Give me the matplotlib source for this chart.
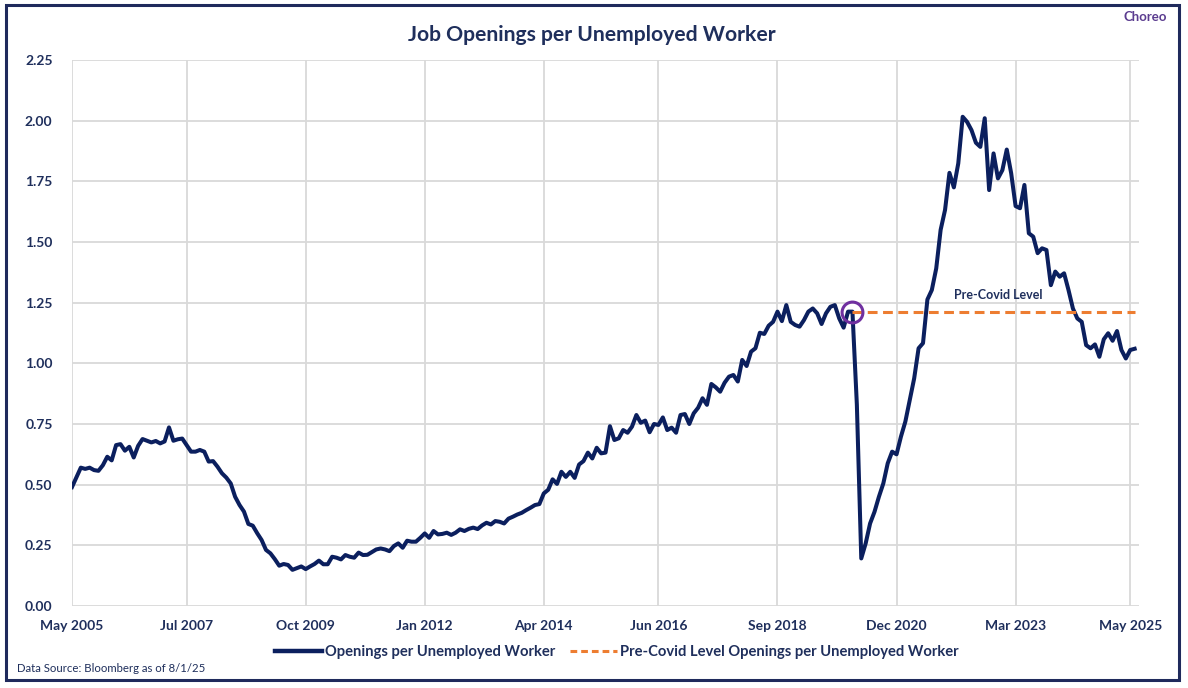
import matplotlib
matplotlib.use("Agg")
import matplotlib.pyplot as plt
from matplotlib.patches import Rectangle
from matplotlib.lines import Line2D

plt.rcParams['font.family'] = ['Lato', 'DejaVu Sans']

# monthly values, May 2005 .. Jun 2025
openings = [
    0.49, 0.53, 0.57, 0.565, 0.57, 0.56, 0.557, 0.58, 0.615, 0.60,
    0.663, 0.667, 0.64, 0.656, 0.612, 0.66, 0.688, 0.681, 0.674, 0.68,
    0.67, 0.678, 0.736, 0.681, 0.687, 0.69, 0.663, 0.636, 0.636, 0.643,
    0.636, 0.595, 0.597, 0.574, 0.547, 0.529, 0.505, 0.45, 0.416, 0.389,
    0.338, 0.331, 0.30, 0.272, 0.231, 0.217, 0.193, 0.166, 0.173, 0.169,
    0.149, 0.156, 0.163, 0.152, 0.163, 0.173, 0.187, 0.172, 0.172, 0.203,
    0.199, 0.192, 0.21, 0.203, 0.199, 0.22, 0.21, 0.211, 0.222, 0.233,
    0.237, 0.233, 0.226, 0.247, 0.258, 0.24, 0.269, 0.265, 0.265, 0.281,
    0.299, 0.281, 0.309, 0.295, 0.297, 0.302, 0.293, 0.302, 0.316, 0.309,
    0.318, 0.323, 0.317, 0.332, 0.343, 0.336, 0.35, 0.347, 0.34, 0.36,
    0.368, 0.377, 0.384, 0.395, 0.405, 0.416, 0.42, 0.464, 0.479, 0.522,
    0.503, 0.553, 0.532, 0.553, 0.528, 0.583, 0.597, 0.632, 0.608, 0.652,
    0.629, 0.632, 0.741, 0.684, 0.691, 0.725, 0.714, 0.739, 0.787, 0.755,
    0.764, 0.716, 0.75, 0.746, 0.777, 0.725, 0.735, 0.714, 0.787, 0.791,
    0.75, 0.794, 0.817, 0.856, 0.829, 0.915, 0.901, 0.883, 0.92, 0.945,
    0.952, 0.925, 1.014, 0.989, 1.048, 1.062, 1.126, 1.121, 1.155, 1.171,
    1.213, 1.174, 1.24, 1.171, 1.158, 1.151, 1.178, 1.213, 1.226, 1.206,
    1.162, 1.206, 1.233, 1.24, 1.185, 1.147, 1.213, 1.213, 0.83, 0.196,
    0.258, 0.34, 0.388, 0.45, 0.505, 0.588, 0.636, 0.625, 0.698, 0.76,
    0.849, 0.938, 1.062, 1.083, 1.263, 1.302, 1.391, 1.55, 1.632, 1.785,
    1.725, 1.824, 2.016, 1.995, 1.961, 1.909, 1.892, 2.01, 1.714, 1.865,
    1.762, 1.796, 1.881, 1.783, 1.648, 1.639, 1.735, 1.536, 1.522, 1.454,
    1.474, 1.467, 1.322, 1.378, 1.357, 1.371, 1.302, 1.226, 1.185, 1.171,
    1.075, 1.062, 1.078, 1.027, 1.099, 1.124, 1.093, 1.133, 1.055, 1.02,
    1.055, 1.06,
]
months = list(range(len(openings)))

pre_covid_start = 177          # Feb 2020
pre_covid_level = openings[pre_covid_start]

tick_months = [0, 26, 53, 80, 107, 133, 160, 187, 214, 240]
tick_labels = ['May 2005', 'Jul 2007', 'Oct 2009', 'Jan 2012', 'Apr 2014',
               'Jun 2016', 'Sep 2018', 'Dec 2020', 'Mar 2023', 'May 2025']
y_ticks = [0, 0.25, 0.5, 0.75, 1.0, 1.25, 1.5, 1.75, 2.0, 2.25]

navy = '#0B1F5E'
text_navy = '#1F2F5C'
orange = '#ED7D31'
purple = '#7030A0'
grid_gray = '#D9D9D9'

fig = plt.figure(figsize=(11.88, 6.88), dpi=100)
ax = fig.add_axes([0.0606, 0.1192, 0.8982, 0.7936])

ax.plot(months, openings, color=navy, lw=2.9, solid_joinstyle='round',
        label='Openings per Unemployed Worker', zorder=3)
covid_x = months[pre_covid_start:]
ax.plot(covid_x, [pre_covid_level] * len(covid_x), color=orange, lw=2.2,
        dashes=(3.2, 1.8), label='Pre-Covid Level Openings per Unemployed Worker',
        zorder=4)
ax.plot([pre_covid_start], [pre_covid_level], 'o', ms=15, mfc='none',
        mec=purple, mew=2.2, zorder=5)
ax.text(210, pre_covid_level + 0.045, 'Pre-Covid Level', color=text_navy,
        fontsize=9, fontweight='bold', ha='center', va='bottom')

ax.set_xlim(0, 242)
ax.set_ylim(0, 2.25)
ax.set_xticks(tick_months)
ax.set_xticklabels(tick_labels)
ax.set_yticks(y_ticks)
ax.set_yticklabels(['%.2f' % v for v in y_ticks])
ax.grid(True, color=grid_gray, lw=1.3)
ax.set_axisbelow(True)
for s in ax.spines.values():
    s.set_visible(False)
ax.tick_params(length=0, colors=text_navy, labelsize=10, pad=10)
ax.tick_params(axis='y', pad=14)
for lab in ax.get_xticklabels() + ax.get_yticklabels():
    lab.set_fontweight('bold')

fig.text(0.498, 0.949, 'Job Openings per Unemployed Worker', ha='center',
         va='center', fontsize=15.2, fontweight='bold', color=text_navy)
fig.text(0.964, 0.975, 'Choreo', ha='center', va='center', fontsize=9.5,
         fontweight='bold', color='#5B3C8F')
fig.text(0.014, 0.029, 'Data Source: Bloomberg as of 8/1/25', ha='left',
         va='center', fontsize=8.2, color=text_navy)

handles = [Line2D([], [], color=navy, lw=3.2),
           Line2D([], [], color=orange, lw=2.2, dashes=(2.2, 1.3))]
leg = fig.legend(handles, ['Openings per Unemployed Worker',
                           'Pre-Covid Level Openings per Unemployed Worker'],
                 loc='center', bbox_to_anchor=(0.519, 0.052), ncol=2,
                 frameon=False, fontsize=10.6, handlelength=3.2,
                 handletextpad=0.2, columnspacing=1.0)
for t in leg.get_texts():
    t.set_color(text_navy)
    t.set_fontweight('bold')

fig.patches.append(Rectangle((0.005, 0.0116), 0.9874, 0.9811,
                             transform=fig.transFigure, fill=False,
                             ec='#1F2A5C', lw=2.2))

fig.savefig('out.png', dpi=100)
